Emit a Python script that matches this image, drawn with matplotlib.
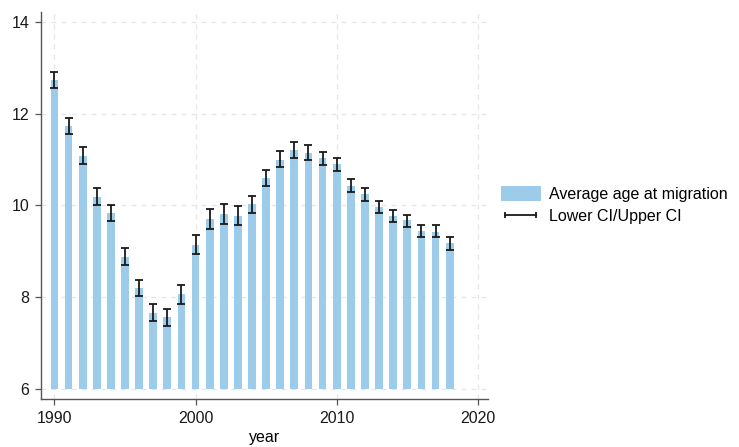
import numpy as np
import matplotlib
matplotlib.use("Agg")
from matplotlib import pyplot as plt
from matplotlib.patches import Patch
from matplotlib.lines import Line2D

# Average age at migration by year, with 95% CI bounds
years = np.arange(1990, 2019)
mean_age = [12.74, 11.73, 11.08, 10.18, 9.83, 8.88, 8.20, 7.66, 7.56, 8.06,
            9.14, 9.70, 9.81, 9.77, 10.02, 10.59, 10.99, 11.20, 11.14, 11.02,
            10.90, 10.43, 10.24, 9.96, 9.76, 9.67, 9.43, 9.42, 9.17]
lower_ci = [12.56, 11.55, 10.90, 10.00, 9.65, 8.69, 8.02, 7.48, 7.37, 7.85,
            8.93, 9.49, 9.60, 9.57, 9.83, 10.41, 10.83, 11.04, 10.99, 10.87,
            10.75, 10.29, 10.10, 9.83, 9.63, 9.53, 9.31, 9.30, 9.03]
upper_ci = [12.91, 11.90, 11.26, 10.37, 10.00, 9.06, 8.38, 7.85, 7.75, 8.26,
            9.36, 9.92, 10.03, 9.98, 10.21, 10.77, 11.18, 11.37, 11.31, 11.16,
            11.03, 10.57, 10.37, 10.09, 9.89, 9.79, 9.57, 9.56, 9.31]
x_ticks = [1990, 2000, 2010, 2020]
y_ticks = [6, 8, 10, 12, 14]
base = 6

BAR_COLOR = "#9dcbea"
GRID_COLOR = "#e6e6e6"
AXIS_COLOR = "#555555"

plt.rcParams["font.family"] = ["Liberation Sans", "DejaVu Sans"]
plt.rcParams["font.size"] = 11.5


def main() -> None:
    mean = np.array(mean_age)
    lo = np.array(lower_ci)
    hi = np.array(upper_ci)

    fig = plt.figure(figsize=(7.39, 4.47), dpi=100)
    ax = fig.add_axes([0.0555, 0.1074, 0.6045, 0.8656])

    ax.bar(years, mean - base, bottom=base, width=0.55, color=BAR_COLOR, zorder=2)
    ax.errorbar(years, mean, yerr=[mean - lo, hi - mean], fmt="none",
                ecolor="#1a1a1a", elinewidth=1.3, capsize=3, capthick=1.3, zorder=3)

    ax.set_xlim(1989.05, 2020.7)
    ax.set_ylim(5.78, 14.21)
    ax.set_xticks(x_ticks)
    ax.set_yticks(y_ticks)
    ax.set_xlabel("year", labelpad=3)

    ax.grid(True, color=GRID_COLOR, linestyle=(0, (4, 4)), linewidth=0.9, zorder=0)
    ax.set_axisbelow(True)
    for side in ("top", "right"):
        ax.spines[side].set_visible(False)
    for side in ("left", "bottom"):
        ax.spines[side].set_color(AXIS_COLOR)
        ax.spines[side].set_linewidth(1.0)
    ax.tick_params(length=4.5, width=0.9, color=AXIS_COLOR, labelcolor="#1a1a1a", pad=4)

    handles = [
        Patch(facecolor=BAR_COLOR, edgecolor="none"),
        Line2D([0, 1], [0, 0], color="#1a1a1a", linewidth=1.3,
               marker="|", markersize=5, markeredgewidth=1.3),
    ]
    labels = ["Average age at migration", "Lower CI/Upper CI"]
    fig.legend(handles, labels, loc="center left", bbox_to_anchor=(0.658, 0.541),
               frameon=False, numpoints=2, handlelength=2.5, handleheight=1.1,
               handletextpad=0.5, labelspacing=0.4)

    fig.savefig("out.png", dpi=100)


if __name__ == "__main__":
    main()
